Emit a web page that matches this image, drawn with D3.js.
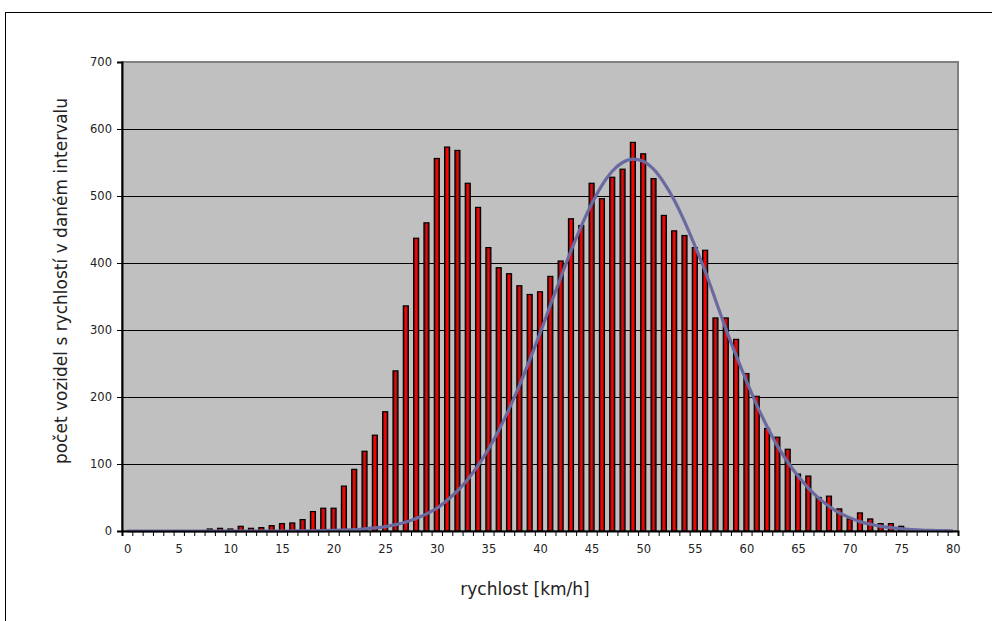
<!DOCTYPE html>
<meta charset="utf-8">
<style>
  body { margin: 0; background: #fff; }
  svg text { font-family: "DejaVu Sans", sans-serif; fill: #222; }
  .axis path, .axis line { stroke: #000; }
</style>
<body>
<div id="chart"></div>
<script src="https://d3js.org/d3.v7.min.js"></script>
<script>
  // speed classes 0..80 km/h
  const speeds = d3.range(0, 81);

  // number of vehicles in each speed interval
  const counts = [
    0, 0, 0, 0, 0, 0, 0, 0, 3, 4,
    3, 7, 4, 5, 8, 11, 12, 17, 29, 34,
    34, 67, 92, 119, 143, 178, 239, 336, 437, 460,
    556, 573, 568, 519, 483, 423, 393, 384, 366, 353,
    357, 380, 403, 466, 456, 519, 496, 528, 540, 580,
    563, 526, 471, 448, 441, 423, 419, 318, 318, 286,
    235, 201, 153, 140, 122, 85, 82, 50, 52, 33,
    18, 27, 18, 11, 11, 7, 2, 0, 0, 0,
    0
  ];

  // fitted normal curve at each class
  const fitted = [
    0, 0, 0, 0, 0, 0, 0, 0, 0, 0,
    0, 0, 0, 0, 0, 0, 0, 0.2, 0.3, 0.5,
    0.9, 1.4, 2, 3.2, 4.6, 6.6, 9.5, 13.5, 18.7, 25.5,
    34, 46, 60, 77, 98, 122, 150, 182, 217, 255,
    295, 337, 378, 418, 455, 488, 516, 537, 550, 555,
    552, 540, 520, 494, 462, 426, 388, 345, 302, 262,
    224, 188, 156, 127, 103, 82, 64, 49, 37, 27,
    20, 14, 10, 7, 5, 3.3, 2.2, 1.4, 0.9, 0.5,
    0.3
  ];

  const yTicks = [0, 100, 200, 300, 400, 500, 600, 700];
  const xLabels = d3.range(0, 81, 5);

  const width = 992, height = 621;
  const plot = {left: 122, top: 62, right: 958, bottom: 531};

  const svg = d3.select("#chart").append("svg")
    .attr("width", width)
    .attr("height", height);

  // outer chart frame
  svg.append("rect")
    .attr("x", 5.5).attr("y", 12.5)
    .attr("width", 1000).attr("height", 620)
    .attr("fill", "#fff")
    .attr("stroke", "#000");

  const x = d3.scaleBand()
    .domain(speeds)
    .range([plot.left, plot.right]);

  // continuous scale for the category boundaries (tick marks)
  const xc = d3.scaleLinear()
    .domain([-0.5, 80.5])
    .range([plot.left, plot.right]);

  const y = d3.scaleLinear()
    .domain([0, 700])
    .range([plot.bottom, plot.top]);

  const defs = svg.append("defs");
  const grad = defs.append("linearGradient")
    .attr("id", "barFill")
    .attr("x1", "0%").attr("x2", "100%")
    .attr("y1", "0%").attr("y2", "0%");
  grad.append("stop").attr("offset", "0%").attr("stop-color", "#6e1212");
  grad.append("stop").attr("offset", "30%").attr("stop-color", "#8a1616");
  grad.append("stop").attr("offset", "38%").attr("stop-color", "#ff0000");
  grad.append("stop").attr("offset", "62%").attr("stop-color", "#ff0000");
  grad.append("stop").attr("offset", "70%").attr("stop-color", "#8a1616");
  grad.append("stop").attr("offset", "100%").attr("stop-color", "#6e1212");

  // plot area
  svg.append("rect")
    .attr("x", plot.left).attr("y", plot.top)
    .attr("width", plot.right - plot.left)
    .attr("height", plot.bottom - plot.top)
    .attr("fill", "#c0c0c0")
    .attr("stroke", "#808080")
    .attr("stroke-width", 2);

  // gridlines
  svg.append("g")
    .selectAll("line")
    .data(yTicks.filter(d => d > 0 && d < 700))
    .enter().append("line")
    .attr("x1", plot.left).attr("x2", plot.right)
    .attr("y1", d => Math.round(y(d)) + 0.5)
    .attr("y2", d => Math.round(y(d)) + 0.5)
    .attr("stroke", "#000")
    .attr("stroke-width", 1);

  // bars
  const barW = 5;
  svg.append("g")
    .selectAll("rect")
    .data(speeds.filter(s => counts[s] > 0))
    .enter().append("rect")
    .attr("x", s => x(s) + x.bandwidth() / 2 - barW / 2)
    .attr("y", s => y(counts[s]))
    .attr("width", barW)
    .attr("height", s => y(0) - y(counts[s]))
    .attr("fill", "url(#barFill)")
    .attr("stroke", "#000")
    .attr("stroke-width", 1.2);

  // fitted curve
  const line = d3.line()
    .x((d, i) => x(speeds[i]) + x.bandwidth() / 2)
    .y(d => y(d))
    .curve(d3.curveMonotoneX);

  svg.append("path")
    .datum(fitted)
    .attr("d", line)
    .attr("fill", "none")
    .attr("stroke", "#6a6aa0")
    .attr("stroke-width", 3.2)
    .attr("stroke-linejoin", "round");

  // y axis
  const yAxis = svg.append("g")
    .attr("class", "axis")
    .attr("transform", `translate(${plot.left},0)`)
    .call(d3.axisLeft(y).tickValues(yTicks).tickSize(5).tickPadding(5));
  yAxis.select(".domain").attr("stroke-width", 2);
  yAxis.selectAll("text").attr("font-size", 11.5).style("font-family", "DejaVu Sans");

  // x axis: ticks on category boundaries
  const xAxis = svg.append("g")
    .attr("class", "axis")
    .attr("transform", `translate(0,${plot.bottom})`)
    .call(d3.axisBottom(xc).tickValues(d3.range(-0.5, 81, 1)).tickSize(5).tickFormat(""));
  xAxis.select(".domain").attr("stroke-width", 2);

  // x labels every 5 km/h
  const xLab = svg.append("g")
    .attr("class", "axis")
    .attr("transform", `translate(0,${plot.bottom})`)
    .call(d3.axisBottom(xc).tickValues(xLabels).tickSize(0).tickPadding(14));
  xLab.select(".domain").remove();
  xLab.selectAll("text").attr("font-size", 11.5).style("font-family", "DejaVu Sans");

  // axis titles
  svg.append("text")
    .attr("x", 525).attr("y", 595)
    .attr("text-anchor", "middle")
    .attr("font-size", 17)
    .text("rychlost [km/h]");

  svg.append("text")
    .attr("transform", "translate(67,281) rotate(-90)")
    .attr("text-anchor", "middle")
    .attr("font-size", 17)
    .text("počet vozidel s rychlostí v daném intervalu");
</script>
